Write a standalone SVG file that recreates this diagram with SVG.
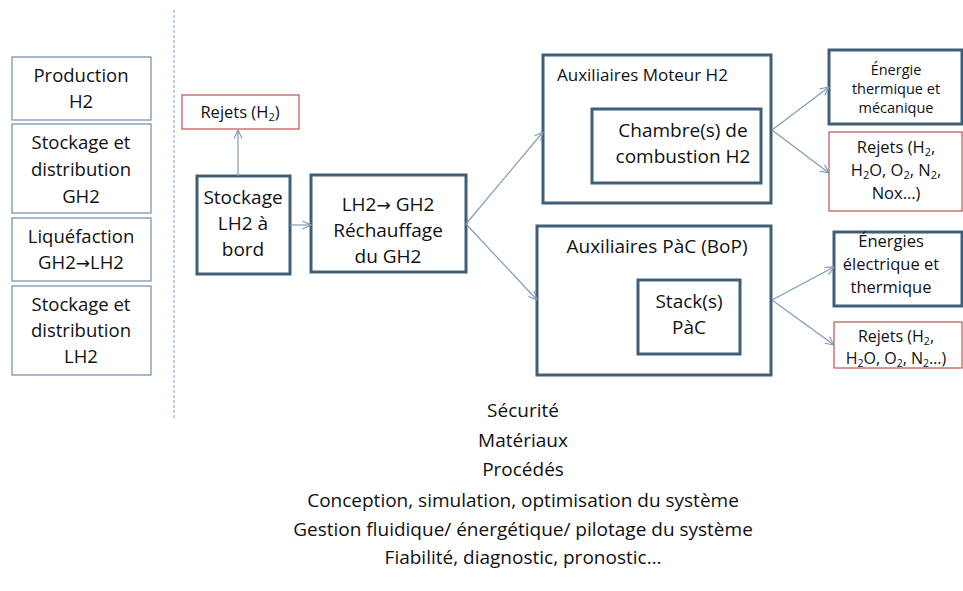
<svg xmlns="http://www.w3.org/2000/svg" width="963" height="591" viewBox="0 0 963 591">
<defs>
<style>
text{font-family:"Open Sans","Liberation Sans",sans-serif;fill:#111;text-anchor:middle}
.thin{fill:#fff;stroke:#6f8ea8;stroke-width:1.2}
.thick{fill:#fff;stroke:#3f5f78;stroke-width:3}
.red{fill:#fff;stroke:#c0504d;stroke-width:1.2}
.conn{fill:none;stroke:#7f9bb8;stroke-width:1.2;marker-end:url(#arr)}
.ar{font-family:"DejaVu Sans",sans-serif}
.tl{font-size:18.5px}
.t19{font-size:19px}
.t17{font-size:17px}
.t16{font-size:16.5px}
.t15{font-size:16px}
.t13{font-size:14.5px}
.bt{font-size:19px}
</style>
<marker id="arr" viewBox="0 0 10 10" refX="9.5" refY="5" markerWidth="10" markerHeight="10" markerUnits="userSpaceOnUse" orient="auto">
<path d="M1,1 L9.5,5 L1,9" fill="none" stroke="#7f9bb8" stroke-width="1.2"/>
</marker>
</defs>
<rect width="963" height="591" fill="#fff"/>
<line x1="174" y1="10" x2="174" y2="420" stroke="#7f9bb8" stroke-width="1" stroke-dasharray="3,2"/>
<g id="production">
<rect class="thin" x="12" y="57" width="139" height="63"/>
<text class="tl" x="81" y="82">Production</text>
<text class="tl" x="81" y="108">H2</text>
</g>
<g id="stockage-gh2">
<rect class="thin" x="12" y="124" width="139" height="89"/>
<text class="tl" x="81" y="149">Stockage et</text>
<text class="tl" x="81" y="176">distribution</text>
<text class="tl" x="81" y="203">GH2</text>
</g>
<g id="liquefaction">
<rect class="thin" x="12" y="218" width="139" height="63"/>
<text class="tl" x="81" y="243">Liquéfaction</text>
<text class="tl" x="81" y="269">GH2<tspan class="ar" font-size="17">→</tspan>LH2</text>
</g>
<g id="stockage-lh2">
<rect class="thin" x="12" y="286" width="139" height="89"/>
<text class="tl" x="81" y="311">Stockage et</text>
<text class="tl" x="81" y="337">distribution</text>
<text class="tl" x="81" y="363">LH2</text>
</g>
<g id="rejets-h2">
<rect class="red" x="182" y="95" width="117" height="34"/>
<text class="t16" x="240" y="118">Rejets (H<tspan font-size="11" dy="3">2</tspan><tspan dy="-3">)</tspan></text>
</g>
<g id="stockage-bord">
<rect class="thick" x="197" y="176" width="93" height="98"/>
<text class="t19" x="243" y="204">Stockage</text>
<text class="t19" x="243" y="230">LH2 à</text>
<text class="t19" x="243" y="256">bord</text>
</g>
<g id="rechauffage">
<rect class="thick" x="311" y="175" width="155" height="97"/>
<text class="t19" x="388" y="211">LH2<tspan class="ar" font-size="17">→</tspan> GH2</text>
<text class="t19" x="388" y="237">Réchauffage</text>
<text class="t19" x="388" y="263">du GH2</text>
</g>
<g id="aux-moteur">
<rect class="thick" x="543" y="55" width="228" height="148"/>
<text class="t17" x="557" y="81" style="text-anchor:start">Auxiliaires  Moteur H2</text>
</g>
<g id="chambre">
<rect class="thick" x="592" y="109" width="169" height="74"/>
<text class="t19" x="683" y="137">Chambre(s) de</text>
<text class="t19" x="683" y="163">combustion H2</text>
</g>
<g id="aux-pac">
<rect class="thick" x="537" y="226" width="234" height="149"/>
<text class="t19" x="657" y="253">Auxiliaires PàC (BoP)</text>
</g>
<g id="stack">
<rect class="thick" x="638" y="280" width="102" height="74"/>
<text class="t19" x="689" y="308">Stack(s)</text>
<text class="t19" x="689" y="334">PàC</text>
</g>
<g id="energie-meca">
<rect class="thick" x="829" y="50" width="133" height="74"/>
<text class="t13" x="896" y="75">Énergie</text>
<text class="t13" x="896" y="94">thermique et</text>
<text class="t13" x="896" y="113">mécanique</text>
</g>
<g id="rejets-moteur">
<rect class="red" x="829" y="132" width="133" height="79"/>
<text class="t16" x="896" y="153">Rejets (H<tspan font-size="11" dy="3">2</tspan><tspan dy="-3">,</tspan></text>
<text class="t16" x="896" y="176">H<tspan font-size="11" dy="3">2</tspan><tspan dy="-3">O, O</tspan><tspan font-size="11" dy="3">2</tspan><tspan dy="-3">, N</tspan><tspan font-size="11" dy="3">2</tspan><tspan dy="-3">,</tspan></text>
<text class="t16" x="896" y="199">Nox…)</text>
</g>
<g id="energies-elec">
<rect class="thick" x="834" y="232" width="128" height="74"/>
<text class="t16" x="891" y="247">Énergies</text>
<text class="t16" x="891" y="270">électrique et</text>
<text class="t16" x="891" y="293">thermique</text>
</g>
<g id="rejets-pac">
<rect class="red" x="834" y="322" width="128" height="46"/>
<text class="t15" x="896" y="342">Rejets (H<tspan font-size="10.5" dy="3">2</tspan><tspan dy="-3">,</tspan></text>
<text class="t15" x="896" y="364">H<tspan font-size="10.5" dy="3">2</tspan><tspan dy="-3">O, O</tspan><tspan font-size="10.5" dy="3">2</tspan><tspan dy="-3">, N</tspan><tspan font-size="10.5" dy="3">2</tspan><tspan dy="-3">…)</tspan></text>
</g>
<g id="connectors">
<path class="conn" d="M238,176 L238,130"/>
<path class="conn" d="M290,225 L311,225"/>
<path class="conn" d="M466,224 L543,132"/>
<path class="conn" d="M466,224 L537,300"/>
<path class="conn" d="M772,130 L829,87"/>
<path class="conn" d="M772,130 L829,173"/>
<path class="conn" d="M772,300 L834,267"/>
<path class="conn" d="M772,300 L834,345"/>
</g>
<g id="themes">
<text class="bt" x="523" y="417">Sécurité</text>
<text class="bt" x="523" y="447">Matériaux</text>
<text class="bt" x="523" y="476">Procédés</text>
<text class="bt" x="523" y="507">Conception, simulation, optimisation du système</text>
<text class="bt" x="523" y="536">Gestion fluidique/ énergétique/ pilotage du système</text>
<text class="bt" x="523" y="564">Fiabilité, diagnostic, pronostic…</text>
</g>
</svg>
